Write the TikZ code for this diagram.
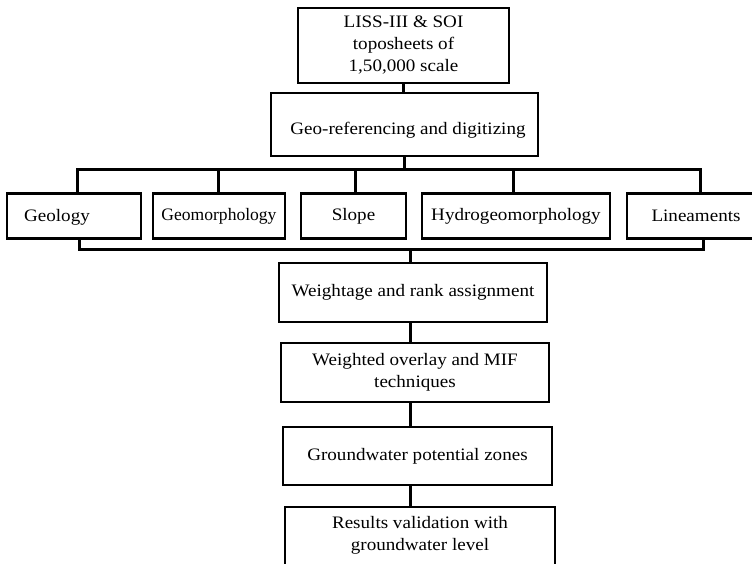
\documentclass[tikz,border=0pt]{standalone}
\usepackage{fontspec}
\setmainfont{Liberation Serif}[FakeStretch=1.09]
\begin{document}
\begin{tikzpicture}[x=1pt,y=-1pt,
  box/.style={draw=black,line width=2.8pt,inner sep=0pt,align=center,font=\fontsize{17.5}{22}\selectfont},
  txt/.style={inner sep=0pt,align=center,font=\fontsize{17.5}{22}\selectfont},
  conn/.style={draw=black,line width=3pt}]
\clip (0,0) rectangle (752,564);
\fill[white] (0,0) rectangle (752,564);
% top boxes
\node[box,minimum width=211pt,minimum height=75pt] (src) at (403.5,45.5) {LISS-III \& SOI\\toposheets of\\1,50,000 scale};
\node[box,minimum width=267pt,minimum height=63pt] (georef) at (404.5,124.5) {};
\node[txt,anchor=base] (georefT) at (408,135) {Geo-referencing and digitizing};
% row of layers
\node[box,minimum width=134pt,minimum height=45pt] (geol) at (74,216) {};
\node[txt,anchor=base] (geolT) at (57,222) {Geology};
\node[box,minimum width=132pt,minimum height=45pt] (geom) at (219,216) {\scalebox{0.92}[1]{Geomorphology}};
\node[box,minimum width=105pt,minimum height=45pt] (slope) at (353.5,216) {Slope};
\node[box,minimum width=188pt,minimum height=45pt] (hydro) at (516,216) {Hydrogeomorphology};
\node[box,minimum width=138pt,minimum height=45pt] (lin) at (696,216) {Lineaments};
% lower chain
\node[box,minimum width=268pt,minimum height=59pt] (weight) at (413,292.5) {Weightage and rank assignment};
\node[box,minimum width=268pt,minimum height=59pt] (overlay) at (415,372.5) {Weighted overlay and MIF\\techniques};
\node[box,minimum width=269pt,minimum height=58pt] (gw) at (417.5,456) {Groundwater potential zones};
\node[box,minimum width=270pt,minimum height=68pt] (res) at (420,541) {};
\node[txt] (resT) at (420,535) {Results validation with\\groundwater level};
% connectors
\draw[conn] (src.south) -- (src.south |- georef.north);
\coordinate (busL) at (77,170);
\coordinate (busR) at (700,170);
\coordinate (d2) at (218,170);
\coordinate (d3) at (355,170);
\coordinate (d4) at (513,170);
\draw[conn] (georef.south) -- (georef.south |- busL);
\draw[conn] (busL |- geol.north) -- (busL) -- (busR) -- (busR |- lin.north);
\draw[conn] (d2) -- (d2 |- geom.north);
\draw[conn] (d3) -- (d3 |- slope.north);
\draw[conn] (d4) -- (d4 |- hydro.north);
\coordinate (bbL) at (79,249);
\coordinate (bbR) at (703,249);
\coordinate (sp) at (410,249);
\draw[conn] (bbL |- geol.south) -- (bbL) -- (bbR) -- (bbR |- lin.south);
\draw[conn] (sp) -- (sp |- weight.north);
\draw[conn] (sp |- weight.south) -- (sp |- overlay.north);
\draw[conn] (sp |- overlay.south) -- (sp |- gw.north);
\draw[conn] (sp |- gw.south) -- (sp |- res.north);
\end{tikzpicture}
\end{document}
